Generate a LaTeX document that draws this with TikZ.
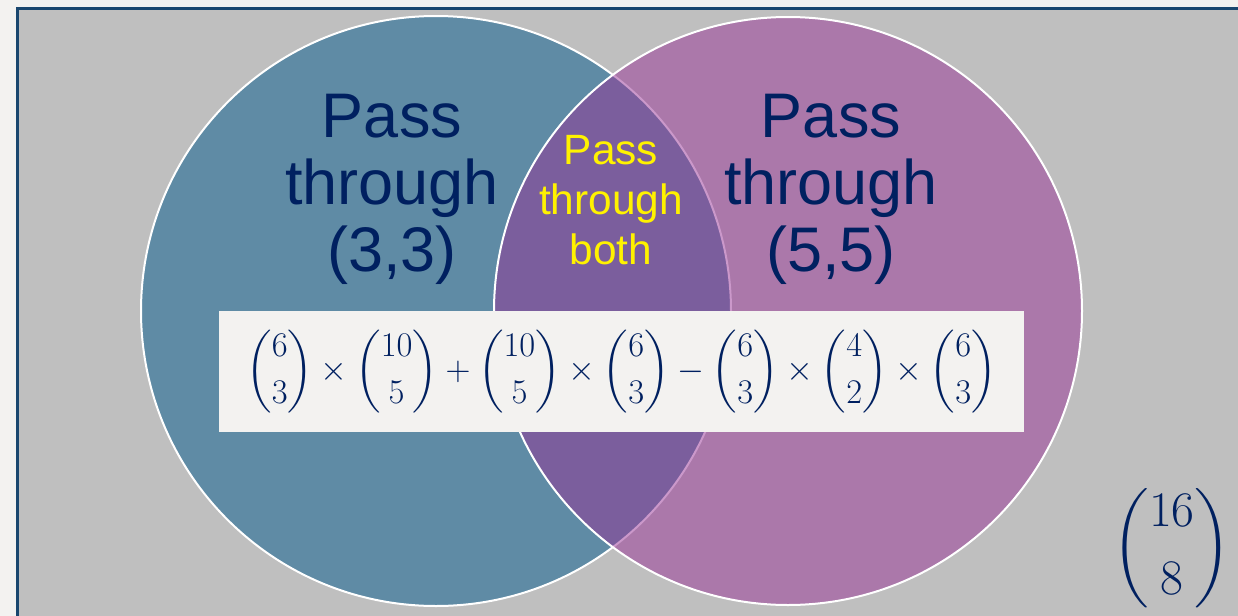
\documentclass[tikz,border=0pt]{standalone}
\usepackage{amsmath}
\usepackage{fontspec}
\newfontfamily\arialfont{Liberation Sans}
\usepackage{tikz}
\usetikzlibrary{positioning}
\definecolor{pagegray}{RGB}{243,242,240}
\definecolor{boxgray}{RGB}{191,191,191}
\definecolor{frameblue}{RGB}{25,70,110}
\definecolor{leftteal}{RGB}{95,139,165}
\definecolor{rightpurple}{RGB}{152,51,151}
\definecolor{navytext}{RGB}{0,32,96}

\begin{document}
\begin{tikzpicture}[
		x=0.5pt, y=-0.5pt,
		every node/.style={
				inner sep=0pt,
				outer sep=0pt
			},
		setlabel/.style={
				anchor=north,
				align=center,
				text=navytext,
				font=\arialfont\fontsize{31.5}{33.5}\selectfont
			},
		bothlabel/.style={
				anchor=north,
				align=center,
				text=yellow,
				font=\arialfont\fontsize{21.2}{25}\selectfont
			},
		setcircle/.style={
				draw=white,
				line width=1pt
			}
	]
	\useasboundingbox (0,0) rectangle (1238,616);
	\fill[pagegray] (0,0) rectangle (1238,616);

	% gray panel with its frame (runs off the page on the right and below)
	\filldraw[fill=boxgray, draw=frameblue, line width=1.6pt]
	(17.5,8.5) rectangle (1270,650);

	% the two sets
	\coordinate (cl) at (436,311);
	\coordinate (cr) at (788,311);
	\fill[leftteal] (cl) circle[radius=147.5pt];
	\draw[setcircle] (cl) circle[radius=147.5pt];
	\fill[rightpurple, fill opacity=0.5] (cr) circle[radius=147pt];
	\draw[setcircle] (cr) circle[radius=147pt];

	\node[setlabel] (left33) at (392,94) {Pass\\through\\(3,3)};
	\node[setlabel] (right55) at (831,94) {Pass\\through\\(5,5)};
	\node[bothlabel] (both) at (611,135) {Pass\\through\\both};

	% counting formula
	\node[
		fill=pagegray,
		minimum width=402.5pt,
		minimum height=60.5pt,
		text=navytext,
		font=\fontsize{17.3}{20}\selectfont
	] (formula) at (621.5,371.5)
	{$\displaystyle\binom{6}{3}\times\binom{10}{5}+\binom{10}{5}\times\binom{6}{3}
			-\binom{6}{3}\times\binom{4}{2}\times\binom{6}{3}$};

	\node[text=navytext, font=\fontsize{24.5}{28}\selectfont] (total) at (1172,548)
	{$\displaystyle\binom{16}{8}$};
\end{tikzpicture}
\end{document}
